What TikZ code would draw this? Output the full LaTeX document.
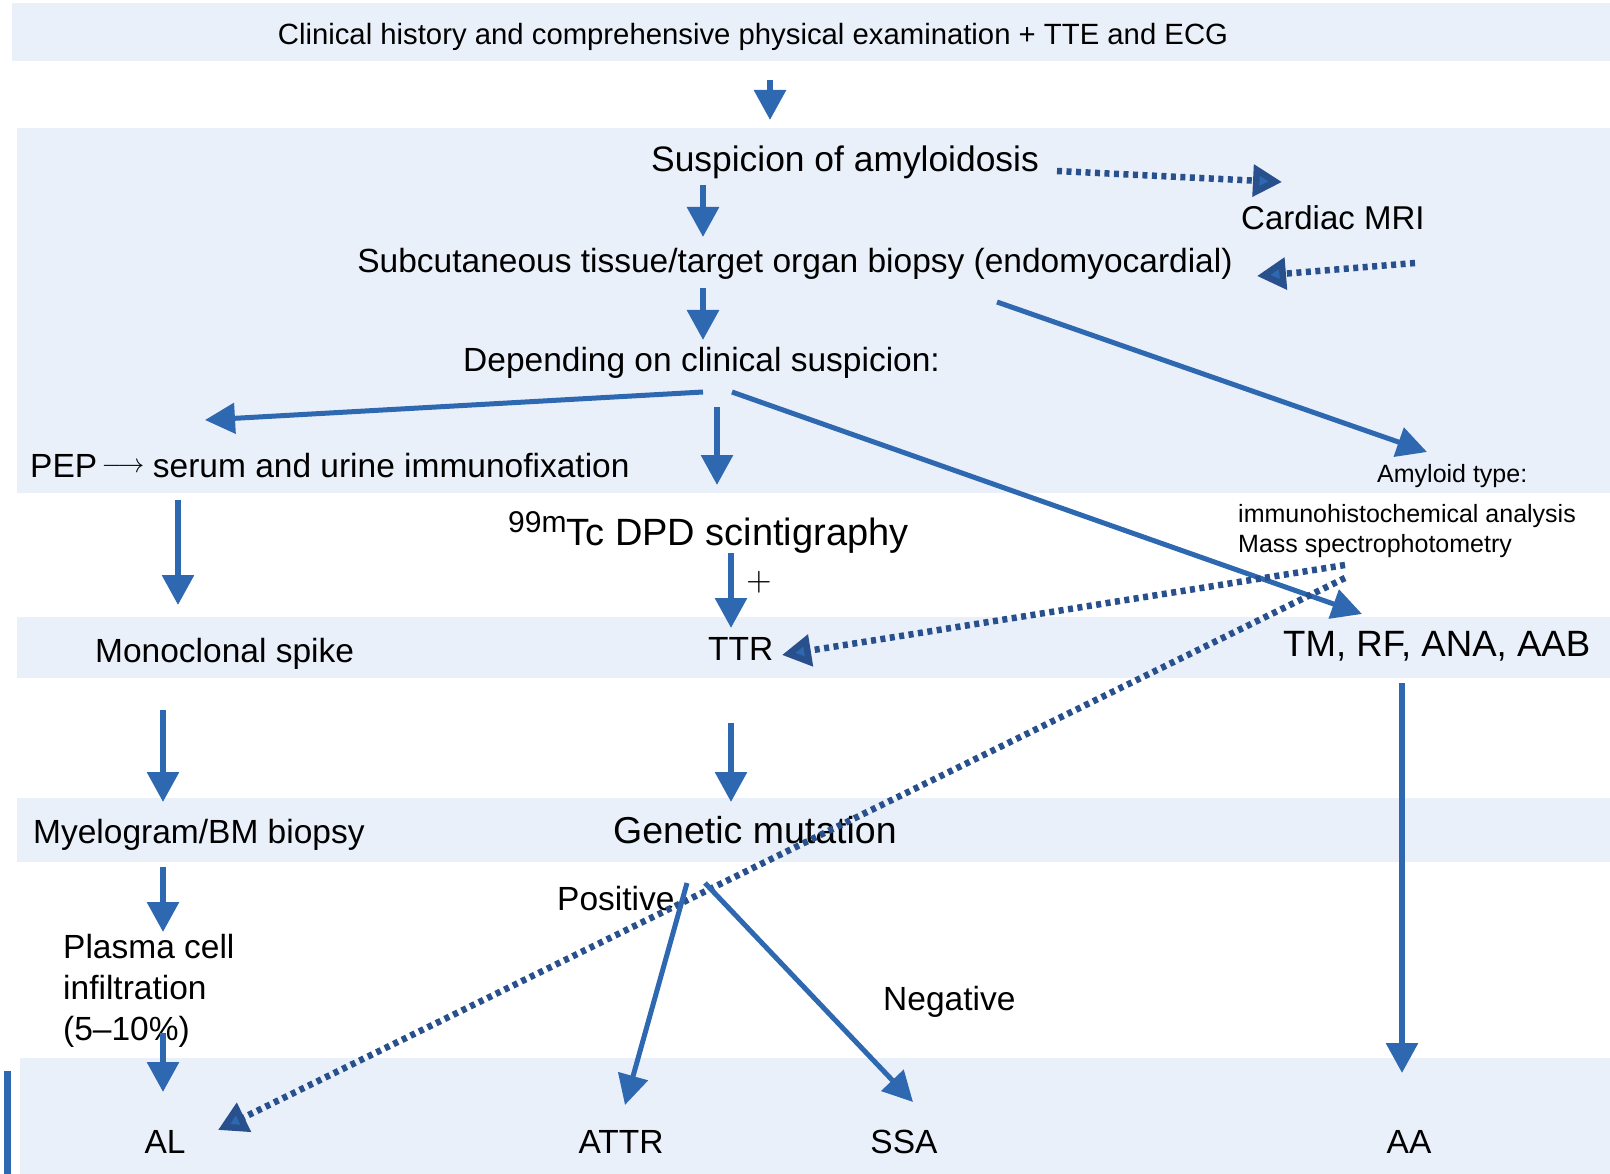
\documentclass[tikz,border=0pt]{standalone}
\usepackage{fontspec}
\setmainfont{Liberation Sans}
\usetikzlibrary{arrows.meta}
\definecolor{bandfill}{RGB}{234,240,250}
\definecolor{ablue}{RGB}{45,104,176}
\definecolor{dblue}{RGB}{40,80,140}
\begin{document}
\begin{tikzpicture}[x=1pt,y=-1pt,
  txt/.style={inner sep=0pt, anchor=base west, font=\fontsize{33.5}{40}\selectfont},
  ctxt/.style={txt, anchor=base},
  smalltxt/.style={txt, font=\fontsize{25}{30}\selectfont},
  bigtxt/.style={txt, font=\fontsize{37.5}{44}\selectfont},
  bandbox/.style={fill=bandfill, draw=none},
  arr/.style={line width=6pt, draw=ablue, -{Triangle[width=31pt,length=30pt]}},
  diagarr/.style={line width=5pt, draw=ablue, -{Triangle[width=30pt,length=30pt]}},
  dotarr/.style={line width=6.5pt, draw=dblue, dash pattern=on 5pt off 4.5pt,
                 -{Triangle[width=31pt,length=29pt,fill=ablue]}},
]
\useasboundingbox (0,0) rectangle (1610,1174);
\fill[white] (0,0) rectangle (1610,1174);
% bands
\path[bandbox] (12,3) rectangle (1610,61);
\path[bandbox] (17,128) rectangle (1610,493);
\path[bandbox] (17,617) rectangle (1610,678);
\path[bandbox] (17,798) rectangle (1610,862);
\path[bandbox] (20,1058) rectangle (1610,1174);
\fill[ablue] (4,1071) rectangle (11,1174);

% texts
\node[ctxt, font=\fontsize{29.3}{34}\selectfont] (title) at (753,45)
  {Clinical history and comprehensive physical examination + TTE and ECG};
\node[txt, font=\fontsize{35.4}{42}\selectfont] (susp) at (651,172) {Suspicion of amyloidosis};
\node[txt, font=\fontsize{33}{40}\selectfont] (mri) at (1241,230) {Cardiac MRI};
\node[ctxt] (biopsy) at (795,273) {Subcutaneous tissue/target organ biopsy (endomyocardial)};
\node[txt] (depend) at (463,372) {Depending on clinical suspicion:};
\node[txt] (pep) at (30,477) {PEP\hspace{4.5pt}\raisebox{5pt}{\fontsize{10}{12}\selectfont\scalebox{2.65}{$\longrightarrow$}}\hspace{8.5pt}serum and urine immunofixation};
\node[smalltxt] (amy) at (1377,482) {Amyloid type:};
\node[smalltxt] (ihc) at (1238,522) {immunohistochemical analysis};
\node[smalltxt] (mass) at (1238,552) {Mass spectrophotometry};
\node[txt, font=\fontsize{38}{44}\selectfont] (dpd) at (508,545)
  {\raisebox{13pt}{\fontsize{30}{32}\selectfont 99m}Tc DPD scintigraphy};
\node[inner sep=0pt] (plus) at (759,582) {\fontsize{10}{12}\selectfont\scalebox{3.3}{$+$}};
\node[txt] (mono) at (95,662) {Monoclonal spike};
\node[txt] (ttr) at (708,660) {TTR};
\node[txt, font=\fontsize{36.6}{42}\selectfont] (tm) at (1283,656) {TM, RF, ANA, AAB};
\node[txt] (myelo) at (33,843) {Myelogram/BM biopsy};
\node[bigtxt] (genetic) at (613,843) {Genetic mutation};
\node[txt] (plasma1) at (63,958) {Plasma cell};
\node[txt] (plasma2) at (63,999) {infiltration};
\node[txt] (plasma3) at (63,1040) {(5–10\%)};
\node[txt] (pos) at (557,910) {Positive};
\node[txt] (neg) at (883,1010) {Negative};
\node[ctxt] (al) at (165,1153) {AL};
\node[ctxt] (attr) at (621,1153) {ATTR};
\node[ctxt] (ssa) at (904,1153) {SSA};
\node[ctxt] (aa) at (1409,1153) {AA};

% connector end points
\coordinate (titleout) at (770,80);
\coordinate (suspin) at (770,120);
\coordinate (suspout) at (703,185);
\coordinate (biopsyin) at (703,237);
\coordinate (biopsyout) at (703,288);
\coordinate (dependin) at (703,340);
\coordinate (depL) at (703,392);
\coordinate (depD) at (717,407);
\coordinate (depR) at (732,392);
\coordinate (pepin) at (205,420);
\coordinate (dpdin) at (717,485);
\coordinate (tmin) at (1362,614);
\coordinate (biopsydiag) at (997,302);
\coordinate (amyin) at (1427,452);
\coordinate (suspR) at (1057,171);
\coordinate (mriin) at (1282,182);
\coordinate (mriout) at (1415,263);
\coordinate (biopsyR) at (1257,276);
\coordinate (pepout) at (178,500);
\coordinate (monoin) at (178,605);
\coordinate (dpdout) at (731,553);
\coordinate (ttrin) at (731,628);
\coordinate (massA) at (1345,565);
\coordinate (massB) at (1345,578);
\coordinate (ttrR) at (782,655);
\coordinate (alR) at (218,1130);
\coordinate (monoout) at (163,710);
\coordinate (myeloin) at (163,802);
\coordinate (ttrout) at (731,723);
\coordinate (genin) at (731,802);
\coordinate (myeloout) at (163,867);
\coordinate (plasmain) at (163,932);
\coordinate (plasmaout) at (163,1033);
\coordinate (alin) at (163,1092);
\coordinate (genL) at (687,883);
\coordinate (genR) at (705,883);
\coordinate (attrin) at (625,1105);
\coordinate (ssain) at (913,1102);
\coordinate (tmout) at (1402,683);
\coordinate (aain) at (1402,1073);

% connectors
\draw[arr] (titleout) -- (suspin);
\draw[arr] (suspout) -- (biopsyin);
\draw[arr] (biopsyout) -- (dependin);
\draw[diagarr] (depL) -- (pepin);
\draw[arr] (depD) -- (dpdin);
\draw[diagarr] (depR) -- (tmin);
\draw[diagarr] (biopsydiag) -- (amyin);
\draw[dotarr] (suspR) -- (mriin);
\draw[dotarr] (mriout) -- (biopsyR);
\draw[arr] (pepout) -- (monoin);
\draw[arr] (dpdout) -- (ttrin);
\draw[dotarr] (massA) -- (ttrR);
\draw[dotarr] (massB) -- (alR);
\draw[arr] (monoout) -- (myeloin);
\draw[arr] (ttrout) -- (genin);
\draw[arr] (myeloout) -- (plasmain);
\draw[arr] (plasmaout) -- (alin);
\draw[diagarr] (genL) -- (attrin);
\draw[diagarr] (genR) -- (ssain);
\draw[arr] (tmout) -- (aain);
\end{tikzpicture}
\end{document}
